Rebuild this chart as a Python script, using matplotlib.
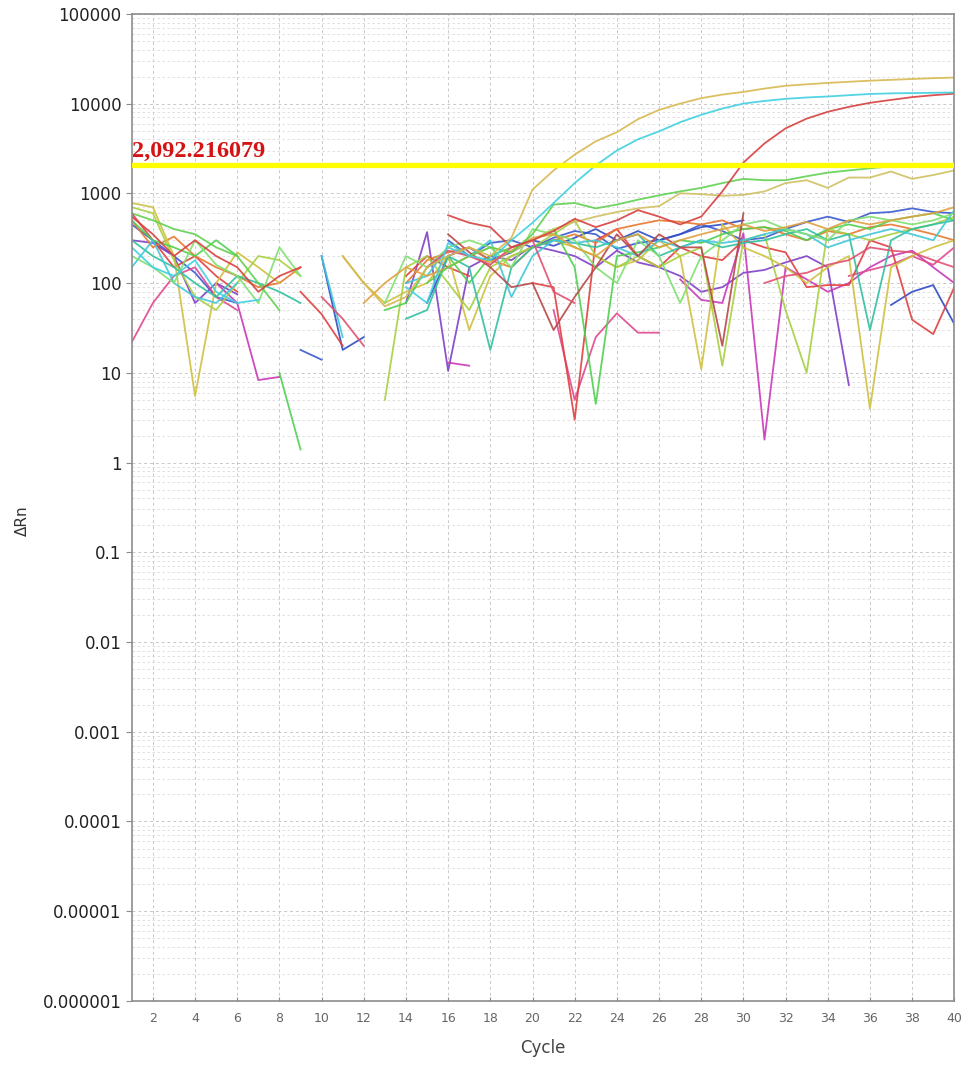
import numpy as np
import matplotlib
matplotlib.use("Agg")
import matplotlib.pyplot as plt
from matplotlib.ticker import FixedLocator, LogLocator, NullFormatter

n = np.nan
cycles = np.arange(1, 41)

# amplification curves
gold_amp = [n, n, n, n, n, n, n, n, n, n, 200, 100, 55, 70, 150, 200, 250, 200, 320, 1100,
            1800, 2700, 3800, 4800, 6700, 8500, 10000, 11500, 12600, 13500,
            14700, 15800, 16400, 17000, 17500, 18000, 18400, 18800, 19200, 19500]
cyan_amp = [250, 150, 120, 180, 80, 60, 65, n, n, n, n, n, n, 90, 60, 280, 200, 180, 300, 470,
            780, 1300, 2050, 3000, 4000, 4900, 6200, 7500, 8800, 10000,
            10700, 11300, 11700, 12000, 12400, 12800, 13000, 13100, 13200, 13300]
red_amp = [550, 350, 200, 300, 200, 150, 80, 120, 150, n, n, n, n, n, n, 570, 470, 420, 250, 300,
           380, 520, 420, 500, 650, 550, 450, 550, 1050, 2200,
           3600, 5300, 6800, 8100, 9200, 10200, 11000, 11800, 12400, 12900]
green_rise = [600, 500, 400, 350, 250, 200, 100, 50, n, n, n, n, n, n, 100, 150, 200, 250, 220, 350,
              750, 780, 680, 750, 850, 950, 1050, 1150, 1300, 1450,
              1400, 1400, 1550, 1700, 1800, 1900, 2000, 2050, 2100, 2100]
khaki_rise = [n, n, n, n, n, n, n, n, n, n, n, n, n, n, n, n, 200, 250, 220, 300,
              400, 480, 550, 620, 680, 720, 1000, 980, 940, 960,
              1050, 1300, 1400, 1150, 1500, 1500, 1750, 1450, 1600, 1800]

# background wells
blue_a = [450, 300, 200, 130, 70, 60, n, n, 18, 14, n, n, n, n, n, 300, 200, 280, 300, 250,
          320, 380, 350, 240, 280, 300, 350, 450, 380, 300, 320, 400, 480, 550, 480, 600, 620, 680, 620, 600]
blue_b = [n, n, n, n, n, n, n, n, n, 200, 18, 25, n, n, 60, 200, 250, 180, 220, 300,
          260, 320, 400, 300, 380, 300, 350, 420, 450, 500, n, n, n, n, n, n, 57, 80, 95, 35]
purple = [300, 280, 200, 60, 100, 75, n, n, n, n, n, n, n, 60, 370, 10.5, 150, 200, 180, 260,
          230, 200, 150, 230, 170, 150, 120, 80, 90, 130, 140, 170, 200, 150, 7.3, n, n, n, n, n]
magenta = [n, n, n, n, 100, 60, 8.3, 9, n, n, n, n, n, n, n, 13, 12, n, n, n,
           n, n, n, n, n, n, 110, 65, 60, 360, 1.8, 150, 110, 80, 100, 150, 200, 230, 150, 100]
pink = [22, 60, 120, 150, 70, 50, n, n, n, n, n, n, n, n, n, n, n, n, n, n,
        50, 5, 25, 46, 28, 28, n, n, n, n, n, n, n, n, 120, 140, 160, 200, 160, 250]
red_b = [600, 300, 150, 200, 120, 80, n, n, 80, 45, 20, n, n, 120, 200, 150, 120, n, n, 100,
         90, 3, 300, 400, 200, 150, 250, 200, 180, 300, 250, 220, 90, 95, 95, 300, 250, 39, 27, 90]
orange = [500, 250, 330, 200, 150, 120, 90, 100, 150, n, n, n, n, 100, 180, 220, 250, 180, 150, 250,
          300, 350, 280, 400, 450, 500, 480, 450, 500, 400, 420, 350, 300, 380, 350, 420, 450, 400, 350, 300]
olive = [780, 700, 200, 5.5, 100, 220, 150, 100, n, n, 200, 100, 60, 80, 100, 200, 30, 120, 200, 250,
         300, 250, 200, 150, 180, 300, 200, 11, 450, 250, 200, 150, 100, 150, 200, 4, 150, 200, 250, 300]
yellowgreen = [700, 600, 180, 70, 50, 100, 200, 180, 120, n, n, n, 5, 150, 200, 100, 50, 150, 200, 250,
               350, 500, 200, 150, 200, 150, 200, 250, 12, 300, 350, 50, 10, 400, 350, 300, 350, 400, 450, 550]
green = [500, 300, 250, 200, 300, 200, n, 10, 1.4, n, n, n, 50, 60, 150, 200, 100, 200, 250, 300,
         400, 150, 4.5, 200, 220, 250, 300, 280, 350, 400, 420, 380, 300, 400, 450, 400, 500, 550, 600, 500]
teal = [300, 200, 150, 100, 70, 120, 100, 80, 60, n, n, n, n, 40, 50, 200, 150, 18, 150, 250,
        300, 280, 250, 300, 350, 200, 250, 300, 250, 280, 300, 350, 400, 300, 350, 30, 300, 400, 450, 500]
cyan = [150, 300, 100, 70, 60, 100, n, n, n, 200, 25, n, n, 100, 120, 250, 200, 300, 70, 200,
        300, 280, 300, 250, 200, 300, 250, 300, 280, 300, 350, 400, 350, 250, 300, 350, 400, 350, 300, 650]
lightgreen = [200, 150, 100, 300, 160, 120, 60, 250, 120, n, n, n, 60, 200, 150, 250, 300, 250, 150, 400,
              350, 300, 150, 100, 300, 200, 60, 200, 300, 450, 500, 400, 350, 300, 500, 550, 500, 450, 500, 600]
brown = [n, n, n, n, n, n, n, n, n, n, n, n, n, n, n, 350, 220, 150, 90, 100,
         30, 70, 150, 350, 200, 350, 250, 250, 20, 600, n, n, n, n, n, n, n, n, n, n]
ambr = [n, n, n, n, n, n, n, n, n, n, n, 60, 100, 150, 120, 150, 200, 170, 230, 320,
        350, 250, 200, 300, 350, 250, 300, 350, 400, 450, 380, 420, 480, 400, 500, 450, 500, 550, 600, 700]
rose = [n, n, n, n, n, n, n, n, n, 70, 40, 20, n, n, 150, 230, 200, 160, 250, 300,
        80, 60, n, n, n, n, n, n, n, n, 100, 120, 130, 160, 180, 250, 230, 220, 180, 150]

threshold = 2092.216079

y_ticks = [1e-6, 1e-5, 1e-4, 1e-3, 1e-2, 1e-1, 1, 10, 100, 1000, 10000, 100000]
y_labels = ["0.000001", "0.00001", "0.0001", "0.001", "0.01", "0.1",
            "1", "10", "100", "1000", "10000", "100000"]
x_ticks = list(range(2, 41, 2))

wells = [
    (blue_a, "#3a5ad0"), (blue_b, "#2f4cc4"), (purple, "#8040c8"), (magenta, "#c838b8"),
    (pink, "#e04890"), (red_b, "#e04040"), (orange, "#e87830"), (olive, "#d0c040"),
    (yellowgreen, "#a8d040"), (green, "#50d050"), (teal, "#30c0a0"), (cyan, "#40c8d8"),
    (lightgreen, "#80e070"), (brown, "#b84848"), (ambr, "#e0a040"), (rose, "#e05070"),
    (khaki_rise, "#d0c060"), (green_rise, "#60d050"), (red_amp, "#d84040"),
    (cyan_amp, "#40d0e0"), (gold_amp, "#d8b850"),
]

fig = plt.figure(figsize=(9.62, 10.66), dpi=100)
ax = fig.add_axes([0.137, 0.061, 0.855, 0.926])

for vals, col in wells:
    ax.plot(cycles, vals, color=col, lw=1.3, alpha=0.9)

ax.axhline(threshold, color="#ffff00", lw=3.8, zorder=5)
ax.text(1.03, threshold * 1.06, f"{threshold:,.6f}", color="#d41414",
        fontsize=17.5, fontweight="bold", family="Liberation Serif", va="bottom", ha="left", zorder=6)

ax.set_yscale("log")
ax.set_ylim(1e-6, 1e5)
ax.set_xlim(1, 40)

ax.xaxis.set_major_locator(FixedLocator(x_ticks))
ax.set_yticks(y_ticks)
ax.set_yticklabels(y_labels)
ax.yaxis.set_minor_locator(LogLocator(base=10, subs=np.arange(2, 10), numticks=20))
ax.yaxis.set_minor_formatter(NullFormatter())

ax.grid(True, which="major", axis="both", color="#c8c8c8", ls=(0, (3, 3)), lw=0.7)
ax.grid(True, which="minor", axis="y", color="#dadada", ls=(0, (3, 3)), lw=0.6)
ax.set_axisbelow(True)

for s in ax.spines.values():
    s.set_color("#8c8c8c")
    s.set_linewidth(1.2)

ax.tick_params(axis="y", which="major", labelsize=12, length=4, color="#8c8c8c", labelcolor="#222222")
ax.tick_params(axis="y", which="minor", length=0)
ax.tick_params(axis="x", labelsize=9, length=3, direction="in", color="#8c8c8c", labelcolor="#666666", pad=8)

ax.set_xlabel("Cycle", fontsize=12, color="#444444", labelpad=10)
ax.set_ylabel("ΔRn", fontsize=11, color="#333333")
ax.yaxis.set_label_coords(-0.124, 0.487)

fig.savefig("out.png", dpi=100)
